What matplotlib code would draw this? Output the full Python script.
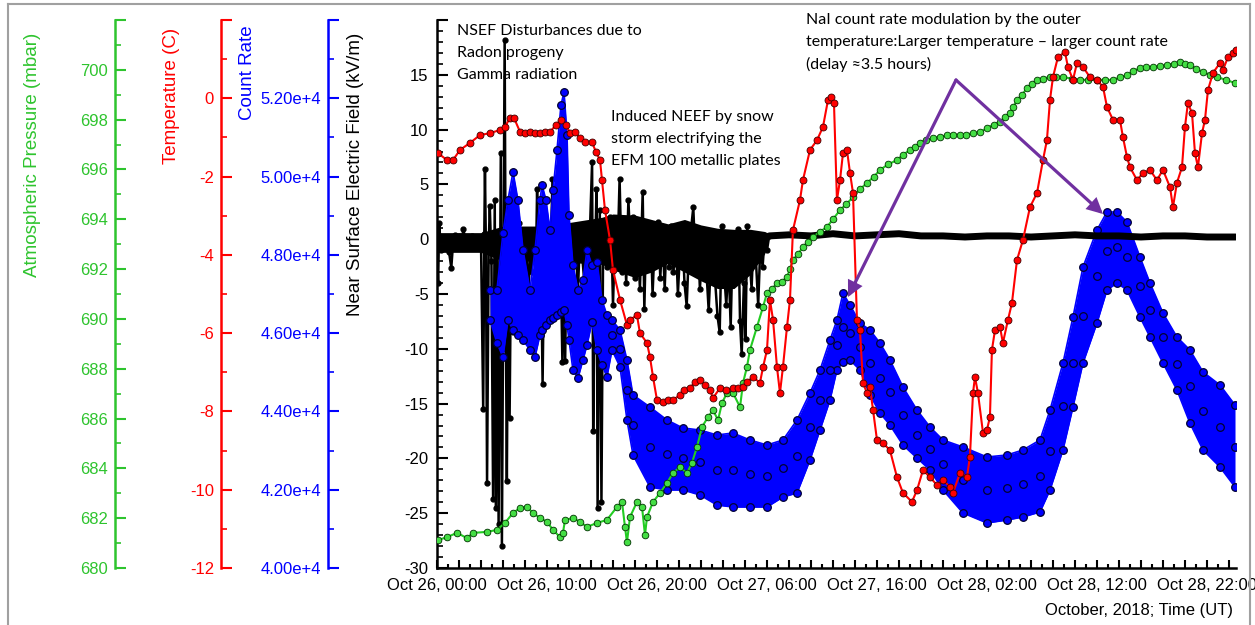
import matplotlib
matplotlib.use("Agg")
import matplotlib.pyplot as plt
from matplotlib.ticker import MultipleLocator, FixedLocator, FixedFormatter, FuncFormatter
from matplotlib.lines import Line2D

# all times are hours since 2018-10-26 00:00 UT
xtick_hours = [0, 10, 20, 30, 40, 50, 60, 70]
xtick_labels = ["Oct 26, 00:00", "Oct 26, 10:00", "Oct 26, 20:00", "Oct 27, 06:00",
                "Oct 27, 16:00", "Oct 28, 02:00", "Oct 28, 12:00", "Oct 28, 22:00"]

# near surface electric field (kV/m), disturbed part
nsef_t = [0.00, 0.10, 0.20, 0.35, 0.50, 0.70, 0.90, 1.10, 1.30, 1.45,
          1.60, 1.80, 2.00, 2.20, 2.40, 2.60, 2.80, 3.00, 3.20, 3.40,
          3.60, 3.80, 4.00, 4.20, 4.30, 4.36, 4.45, 4.55, 4.70, 4.80,
          4.95, 5.10, 5.25, 5.35, 5.50, 5.60, 5.80, 5.90, 6.00, 6.15,
          6.25, 6.35, 6.50, 6.60, 6.75, 6.90, 7.05, 7.20, 7.35, 7.50,
          7.65, 7.80, 7.95, 8.10, 8.30, 8.45, 8.60, 8.80, 9.00, 9.10,
          9.25, 9.45, 9.60, 9.75, 9.95, 10.10, 10.30, 10.50, 10.65, 10.85,
          11.00, 11.20, 11.40, 11.55, 11.65, 11.80, 12.00, 12.20, 12.40, 12.60,
          12.80, 13.00, 13.20, 13.40, 13.60, 13.80, 14.10, 14.20, 14.35, 14.50,
          14.60, 14.80, 14.95, 15.10, 15.30, 15.50, 15.70, 15.90, 16.00, 16.20,
          16.40, 16.60, 16.80, 17.00, 17.20, 17.40, 17.60, 17.80, 18.00, 18.20,
          18.45, 18.70, 18.85, 19.00, 19.20, 19.40, 19.60, 19.80, 20.10, 20.30,
          20.50, 20.70, 20.90, 21.10, 21.30, 21.50, 21.70, 21.90, 22.10, 22.30,
          22.50, 22.70, 22.90, 23.10, 23.30, 23.50, 23.70, 23.90, 24.10, 24.30,
          24.50, 24.70, 24.90, 25.10, 25.30, 25.50, 25.70, 25.90, 26.10, 26.30,
          26.50, 26.70, 26.90, 27.10, 27.40, 27.55, 27.70, 27.90, 28.05, 28.20,
          28.40, 28.60, 28.80, 29.00, 29.20, 29.40, 29.60, 29.80, 30.00, 30.20]
nsef_kvm = [-0.4, -4.0, 1.5, -1.0, 0.2, -0.8, -0.3, -1.2, -2.6, -0.5,
            0.4, -0.6, 0.3, -0.4, 0.9, -0.2, 0.2, -0.6, 0.3, -0.5,
            0.1, -0.8, -0.2, -15.5, 0.5, 6.4, -1.0, -22.2, -0.5, 3.0,
            -2.0, -23.7, 3.6, -24.5, -1.0, -26.0, 7.9, -28.0, -10.0, 18.2,
            -6.0, -22.1, 3.3, -16.3, 0.5, -8.5, -1.0, -3.5, 0.8, 1.5,
            -2.5, -0.5, -4.5, 0.2, -6.0, -1.0, -3.0, 0.5, -2.0, 4.6,
            -4.0, -1.5, -13.2, -0.5, -5.5, 0.8, -2.5, 5.5, -4.0, -1.0,
            -6.0, 0.5, -11.2, -1.0, -11.1, 0.0, -3.0, 1.0, -2.0, 0.6,
            -5.0, 0.2, -1.5, -4.0, 0.5, -2.5, 7.0, -17.5, -3.0, 4.6,
            -24.5, 2.7, -24.0, -1.0, 1.5, -2.5, 2.0, -1.5, -6.0, 1.0,
            -2.0, 5.5, -3.0, 1.5, -4.0, 3.6, -1.0, 2.0, -3.5, 1.0,
            -4.5, 4.3, -6.4, 0.5, -2.5, 1.5, -5.0, 0.0, 1.6, -3.5,
            0.5, -4.5, 0.8, -2.5, 1.2, -3.0, 0.5, -5.0, -1.0, 0.8,
            -4.0, -6.1, -1.0, 1.0, 2.9, -2.0, 0.5, -4.5, -1.5, 0.8,
            -3.0, -6.5, -2.0, 0.2, -4.0, -7.0, -8.5, 1.2, -3.0, -6.0,
            -2.0, -8.0, 0.5, -3.5, 0.9, -7.5, -10.5, -4.0, -9.1, 1.2,
            -1.5, -4.5, 0.5, -2.0, -6.0, -0.5, -2.5, 0.2, -1.0, 0.3]

# dense core of the disturbed field record (upper / lower edge)
nsef_core_t = [0.0, 4.0, 6.0, 10.0, 15.0, 16.0, 18.0, 19.5, 21.0, 22.5,
               24.0, 25.5, 27.0, 28.5, 29.8, 30.2]
nsef_core_hi = [0.6, 0.6, 1.2, 1.2, 2.0, 2.3, 2.2, 1.8, 1.4, 1.8,
                1.3, 1.0, 0.9, 0.9, 0.7, 0.5]
nsef_core_lo = [-1.2, -1.2, -2.0, -2.0, -2.3, -2.8, -3.5, -3.0, -2.2, -3.0,
                -3.8, -4.5, -4.5, -3.2, -1.3, 0.1]

# electric field, quiet part
nsef_calm_t = [30.2, 32, 34, 36, 38, 40, 42, 44, 46, 48, 50,
               52, 54, 56, 58, 60, 62, 64, 66, 68, 70, 72.6]
nsef_calm_kvm = [0.3, 0.4, 0.3, 0.5, 0.3, 0.4, 0.5, 0.3, 0.3, 0.2, 0.3,
                 0.3, 0.2, 0.3, 0.4, 0.3, 0.3, 0.2, 0.3, 0.3, 0.2, 0.2]

# outer temperature (C)
temp_t = [0.09, 0.91, 1.45, 2.09, 3.00, 3.91, 4.82, 5.73, 6.18, 6.64,
          7.00, 7.55, 8.00, 8.45, 8.91, 9.36, 9.82, 10.27, 10.82, 11.27,
          11.73, 12.09, 12.55, 13.00, 13.45, 14.09, 14.45, 14.82, 15.00, 15.27,
          15.73, 16.00, 16.64, 17.27, 17.55, 18.18, 18.45, 19.09, 19.36, 19.64,
          20.00, 20.55, 21.00, 21.45, 22.09, 22.50, 23.00, 23.45, 23.91, 24.36,
          24.82, 25.09, 25.73, 26.27, 26.91, 27.36, 27.82, 28.18, 28.73, 29.36,
          29.64, 30.00, 30.27, 30.55, 30.91, 31.18, 31.45, 31.82, 32.09, 32.36,
          33.00, 33.27, 33.91, 34.55, 35.09, 35.55, 35.82, 36.09, 36.36, 36.64,
          36.91, 37.27, 37.55, 37.82, 38.18, 38.45, 38.73, 39.09, 39.36, 39.64,
          40.00, 40.55, 41.18, 41.82, 42.36, 43.18, 43.64, 44.18, 44.82, 45.45,
          46.00, 46.64, 46.91, 47.55, 48.18, 48.45, 48.73, 48.91, 49.18, 49.64,
          50.00, 50.27, 50.45, 50.73, 51.18, 51.45, 51.91, 52.27, 52.73, 53.27,
          53.91, 54.55, 55.09, 55.45, 55.73, 56.00, 56.45, 57.09, 57.36, 57.82,
          58.18, 58.73, 59.36, 60.00, 60.55, 60.91, 61.45, 62.09, 62.36, 62.73,
          63.00, 63.64, 64.18, 64.82, 65.45, 66.00, 66.64, 66.91, 67.27, 67.73,
          68.00, 68.27, 68.64, 68.91, 69.18, 69.55, 69.82, 70.09, 70.55, 71.18,
          71.45, 71.91, 72.36, 72.64]
temp_c = [-1.40, -1.58, -1.58, -1.32, -1.14, -0.94, -0.89, -0.81, -0.73, -0.50,
          -0.50, -0.86, -0.89, -0.86, -0.89, -0.89, -0.86, -0.86, -0.68, -0.55,
          -0.68, -0.89, -0.86, -1.02, -1.12, -1.12, -1.37, -1.58, -2.09, -2.85,
          -3.62, -4.39, -5.15, -5.79, -5.66, -5.54, -6.00, -6.25, -6.61, -7.12,
          -7.71, -7.76, -7.71, -7.71, -7.58, -7.45, -7.40, -7.25, -7.20, -7.33,
          -7.45, -7.66, -7.40, -7.45, -7.40, -7.40, -7.38, -7.25, -7.12, -7.27,
          -6.87, -6.43, -5.15, -5.66, -6.87, -7.53, -6.87, -5.84, -5.15, -3.37,
          -2.60, -2.09, -1.32, -1.07, -0.73, -0.04, 0.03, -0.12, -2.60, -2.09,
          -1.40, -1.32, -1.91, -2.42, -5.66, -5.92, -7.27, -7.53, -7.38, -7.96,
          -8.73, -8.81, -8.99, -9.68, -10.08, -10.31, -10.01, -9.50, -9.68, -9.88,
          -9.75, -9.93, -10.08, -9.57, -9.68, -9.16, -7.53, -7.12, -7.53, -8.55,
          -8.47, -8.14, -6.43, -5.92, -5.84, -6.25, -5.66, -5.23, -4.13, -3.62,
          -2.78, -2.42, -1.58, -1.07, -0.04, 0.54, 1.05, 1.18, 0.80, 0.47,
          0.90, 0.80, 0.54, 0.47, 0.29, -0.22, -0.55, -0.55, -0.99, -1.50,
          -1.76, -2.09, -1.91, -1.83, -2.09, -1.83, -2.27, -2.78, -2.16, -1.76,
          -0.73, -0.12, -0.38, -1.40, -1.76, -0.89, -0.55, 0.21, 0.65, 0.90,
          0.72, 1.05, 1.16, 1.23]

# atmospheric pressure (mbar)
pres_t = [0.09, 0.91, 1.82, 2.73, 3.27, 4.55, 5.45, 6.18, 6.91, 7.55,
          8.18, 8.73, 9.36, 10.00, 10.55, 11.18, 11.45, 11.64, 12.36, 13.00,
          13.64, 14.55, 15.45, 16.36, 16.82, 17.09, 17.27, 17.55, 18.18, 18.64,
          18.91, 19.09, 19.64, 20.27, 20.91, 21.45, 22.09, 22.73, 23.18, 23.64,
          24.09, 24.64, 25.09, 25.55, 25.91, 26.36, 26.91, 27.55, 27.82, 28.18,
          28.45, 29.09, 29.64, 30.00, 30.45, 30.91, 31.36, 31.82, 32.09, 32.36,
          32.82, 33.27, 33.73, 34.18, 34.82, 35.45, 36.00, 36.64, 37.20, 37.82,
          38.45, 39.09, 39.70, 40.27, 41.00, 41.82, 42.40, 43.00, 43.45, 43.91,
          44.50, 45.09, 45.70, 46.36, 46.90, 47.55, 48.10, 48.73, 49.40, 50.00,
          50.60, 51.18, 51.60, 52.09, 52.40, 52.73, 53.20, 53.64, 54.10, 54.55,
          55.10, 55.73, 56.30, 56.91, 57.70, 58.45, 59.20, 60.00, 60.70, 61.45,
          62.10, 62.73, 63.30, 63.91, 64.50, 65.09, 65.70, 66.36, 67.00, 67.55,
          68.00, 68.45, 69.00, 69.64, 70.30, 70.91, 71.70, 72.55]
pres_mbar = [681.12, 681.24, 681.41, 681.20, 681.41, 681.45, 681.53, 681.81, 682.21, 682.41,
             682.45, 682.21, 682.01, 681.85, 681.53, 681.24, 681.41, 681.93, 682.01, 681.85,
             681.65, 681.81, 681.93, 682.45, 682.65, 681.65, 681.04, 682.05, 682.65, 682.45,
             681.32, 682.05, 682.65, 683.01, 683.41, 683.81, 684.05, 683.81, 684.22, 684.86,
             685.66, 686.06, 686.34, 685.94, 686.62, 687.03, 687.03, 686.46, 687.43, 688.07,
             688.75, 689.68, 690.48, 691.04, 691.20, 691.44, 691.50, 691.68, 692.00, 692.37,
             692.60, 692.89, 693.10, 693.29, 693.50, 693.69, 694.00, 694.37, 694.60, 694.89,
             695.20, 695.46, 695.70, 695.98, 696.20, 696.38, 696.60, 696.78, 696.90, 697.06,
             697.20, 697.26, 697.30, 697.38, 697.40, 697.38, 697.40, 697.46, 697.50, 697.66,
             697.80, 697.91, 698.10, 698.27, 698.50, 698.79, 699.00, 699.27, 699.45, 699.59,
             699.65, 699.71, 699.70, 699.71, 699.65, 699.59, 699.60, 699.59, 699.60, 699.59,
             699.70, 699.79, 699.95, 700.07, 700.10, 700.11, 700.15, 700.19, 700.25, 700.31,
             700.25, 700.19, 700.05, 699.91, 699.80, 699.71, 699.60, 699.47]

# NaI count rate: upper and lower edge of the scatter
count_t = [4.82, 5.45, 6.00, 6.45, 6.91, 7.36, 7.82, 8.45, 8.91, 9.36,
           9.55, 9.91, 10.27, 10.55, 10.91, 11.27, 11.55, 11.82, 12.00, 12.36,
           12.82, 13.27, 13.64, 14.09, 14.55, 15.00, 15.45, 15.91, 16.64, 17.27,
           17.82, 19.36, 20.91, 22.36, 23.91, 25.45, 26.91, 28.45, 30.00, 31.45,
           32.73, 33.91, 34.82, 35.73, 36.36, 36.91, 37.55, 38.45, 39.36, 40.27,
           41.18, 42.36, 43.64, 44.82, 46.00, 47.82, 50.00, 51.82, 53.27, 54.82,
           55.73, 56.91, 57.82, 58.73, 60.00, 60.91, 61.82, 62.73, 63.91, 64.82,
           66.00, 67.27, 68.45, 69.64, 71.18, 72.55]
count_hi = [47102, 47102, 48558, 49401, 50117, 49401, 48124, 47102, 48124, 49401,
            49785, 49401, 48635, 49657, 50679, 51828, 52160, 51062, 49018, 47741,
            47102, 47358, 48124, 47741, 47817, 46847, 46463, 46336, 46080, 45314,
            44420, 44113, 43781, 43577, 43525, 43398, 43449, 43270, 43142, 43270,
            43781, 44471, 45058, 45825, 46336, 47025, 46719, 46259, 46080, 45748,
            45314, 44624, 44036, 43602, 43270, 43091, 42836, 42887, 43015, 43270,
            44036, 45237, 46412, 47690, 48635, 49095, 49095, 48839, 47945, 47281,
            46514, 45901, 45569, 45007, 44675, 44164]
count_lo = [46336, 45748, 45390, 46336, 46080, 45952, 45825, 45569, 45390, 45952,
            46080, 46208, 46336, 46387, 46463, 46540, 46591, 46208, 45825, 45058,
            44854, 45314, 45697, 46285, 45569, 45186, 44879, 45569, 45135, 43781,
            42887, 42069, 41993, 41993, 41865, 41609, 41558, 41558, 41558, 41814,
            41916, 42759, 43525, 44292, 45058, 45263, 45314, 45058, 44420, 43960,
            43653, 43142, 42810, 42504, 41993, 41405, 41150, 41226, 41303, 41431,
            41993, 43015, 44113, 45237, 46259, 47102, 47281, 47102, 46412, 45901,
            45237, 44547, 43704, 43015, 42580, 42069]
# a visible row of points inside the band
count_mid_t = [15.91, 16.64, 17.27, 17.82, 19.36, 20.91, 22.36, 23.91, 25.45, 26.91,
               28.45, 30.00, 31.45, 32.73, 33.91, 34.82, 35.73, 36.36, 36.91, 37.55,
               38.45, 39.36, 40.27, 41.18, 42.36, 43.64, 44.82, 46.00, 47.82, 50.00,
               51.82, 53.27, 54.82, 55.73, 56.91, 57.82, 58.73, 60.00, 60.91, 61.82,
               62.73, 63.91, 64.82, 66.00, 67.27, 68.45, 69.64, 71.18, 72.55]
count_mid = [45950, 45600, 44550, 43650, 43100, 42900, 42800, 42700, 42500, 42500,
             42400, 42350, 42550, 42850, 43600, 44300, 45050, 45700, 46150, 46000,
             45650, 45250, 44850, 44500, 43900, 43400, 43050, 42650, 42250, 42000,
             42050, 42150, 42350, 43000, 44150, 45250, 46450, 47450, 48100, 48200,
             47950, 47200, 46600, 45900, 45200, 44650, 44000, 43600, 43100]

GREEN = "#2ec42e"
RED = "#ff0000"
BLUE = "#0000ff"
PURPLE = "#7030a0"
W, H = 1255, 625

plt.rcParams["font.family"] = ["Liberation Sans", "DejaVu Sans"]
fig = plt.figure(figsize=(W / 100, H / 100), dpi=100)


def fx(px):
    return px / W


def fy(py):
    return 1 - py / H


ax = fig.add_axes([fx(437), fy(568), fx(1236) - fx(437), fy(20) - fy(568)])
ax.patch.set_visible(False)
ax.set_xlim(0, 72.64)
ax.set_ylim(-30, 20)

lab_map = dict(zip(xtick_hours, xtick_labels))
ax.xaxis.set_major_locator(MultipleLocator(2))
ax.xaxis.set_minor_locator(MultipleLocator(1))
ax.xaxis.set_major_formatter(FuncFormatter(lambda v, p: lab_map.get(int(round(v)), "")))
ax.yaxis.set_major_locator(FixedLocator(list(range(-30, 21, 5))))
ax.yaxis.set_major_formatter(FixedFormatter([str(v) for v in range(-30, 16, 5)] + [""]))
ax.yaxis.set_minor_locator(MultipleLocator(1))
ax.tick_params(axis="y", which="major", direction="in", length=8, width=1.5, labelsize=12, pad=6)
ax.tick_params(axis="y", which="minor", direction="in", length=4.5, width=1.2)
ax.tick_params(axis="x", which="major", direction="in", length=6, width=1.5, labelsize=12, pad=7)
ax.tick_params(axis="x", which="minor", direction="in", length=3, width=1.5)
for s in ("top", "right"):
    ax.spines[s].set_visible(False)
for s in ("left", "bottom"):
    ax.spines[s].set_linewidth(1.8)


def side_axis(offset, color, lo, hi, step, labels):
    a = ax.twinx()
    a.yaxis.tick_left()
    for s in ("right", "top", "bottom"):
        a.spines[s].set_visible(False)
    a.spines["left"].set_visible(True)
    a.spines["left"].set_position(("axes", offset))
    a.spines["left"].set_color(color)
    a.spines["left"].set_linewidth(1.8)
    a.set_ylim(lo, hi)
    ticks = [lo + i * step for i in range(int(round((hi - lo) / step)) + 1)]
    a.yaxis.set_major_locator(FixedLocator(ticks))
    a.yaxis.set_major_formatter(FixedFormatter(labels + [""]))
    a.yaxis.set_minor_locator(MultipleLocator(step / 2))
    a.tick_params(axis="y", which="major", direction="in", length=8, width=1.5,
                  colors=color, labelsize=12, pad=5)
    a.tick_params(axis="y", which="minor", direction="in", length=4.5, width=1.2, colors=color)
    return a


ax_c = side_axis(-0.1364, BLUE, 40000, 54000, 2000,
                 ["%.2fe+4" % (v / 1e4) for v in range(40000, 53000, 2000)])
ax_p = side_axis(-0.4030, GREEN, 680, 702, 2, [str(v) for v in range(680, 701, 2)])
ax_t = side_axis(-0.2703, RED, -12, 2, 2, [str(v) for v in range(-12, 1, 2)])

# quiet field record sits on top of the count-rate band
ax_q = ax.twinx()
ax_q.set_ylim(-30, 20)
ax_q.axis("off")

# drawing order: disturbed field, count rate, quiet field, pressure, temperature
ax.set_zorder(1)
ax_c.set_zorder(2)
ax_q.set_zorder(3)
ax_p.set_zorder(4)
ax_t.set_zorder(5)

ax.fill_between(nsef_core_t, nsef_core_lo, nsef_core_hi, color="k", lw=0)
ax.plot(nsef_t, nsef_kvm, "-o", color="k", lw=1.8, ms=3.5)
ax_q.plot(nsef_calm_t, nsef_calm_kvm, "-", color="k", lw=5, solid_capstyle="round")

ax_c.fill_between(count_t, count_lo, count_hi, color=BLUE, lw=0)
for edge in (count_hi, count_lo):
    ax_c.plot(count_t, edge, "-o", color=BLUE, lw=1.2, ms=5.5, mfc=BLUE, mec="#000033", mew=0.9)
ax_c.plot(count_mid_t, count_mid, "o", ms=5.5, mfc=BLUE, mec="#000033", mew=0.9)

ax_p.plot(pres_t, pres_mbar, "-o", color="#22cc22", lw=1.5, ms=4.8,
          mfc="#44dd44", mec="#003300", mew=0.6)
ax_t.plot(temp_t, temp_c, "-o", color=RED, lw=1.5, ms=5, mfc=RED, mec="#400000", mew=0.6)

# axis titles, top aligned as in the original
fig.text(fx(33), fy(33), "Atmospheric Pressure (mbar)", rotation=90, ha="center", va="top",
         color=GREEN, fontsize=13.5)
fig.text(fx(171), fy(28), "Temperature (C)", rotation=90, ha="center", va="top",
         color=RED, fontsize=13.5)
fig.text(fx(247), fy(25), "Count Rate", rotation=90, ha="center", va="top",
         color=BLUE, fontsize=13.5)
fig.text(fx(355), fy(33), "Near Surface Electric Field (kV/m)", rotation=90, ha="center",
         va="top", color="k", fontsize=13.5)
fig.text(fx(1233), fy(610), "October, 2018; Time (UT)", ha="right", va="center", fontsize=12)

note_font = dict(family=["Lato", "DejaVu Sans"], fontsize=11.5, ha="left", va="center")
notes = [
    (457, [31, 53, 75], ["NSEF Disturbances due to", "Radon progeny", "Gamma radiation"]),
    (611, [117, 139, 161], ["Induced NEEF by snow", "storm electrifying the",
                            "EFM 100 metallic plates"]),
    (806, [20, 42, 64], ["NaI count rate modulation by the outer",
                         "temperature:Larger temperature \u2013 larger count rate",
                         "(delay \u22483.5 hours)"]),
]
for x0, ys, lines in notes:
    for y0, line in zip(ys, lines):
        fig.text(fx(x0), fy(y0), line, **note_font)

apex = (956, H - 80)
for tip in ((848, H - 297), (1103, H - 214)):
    ax_t.annotate("", xy=tip, xycoords="figure pixels", xytext=apex, textcoords="figure pixels",
                  annotation_clip=False,
                  arrowprops=dict(arrowstyle="-|>", color=PURPLE, lw=2.3, mutation_scale=20,
                                  shrinkA=0, shrinkB=0, joinstyle="miter"))

# grey frame of the original screenshot
frame = dict(color="#a0a0a0", lw=1.5, transform=fig.transFigure)
fig.add_artist(Line2D([fx(8), fx(8)], [fy(4), 0], **frame))
fig.add_artist(Line2D([fx(8), fx(1250)], [fy(4), fy(4)], **frame))
fig.add_artist(Line2D([fx(1250), fx(1250)], [fy(4), 0], **frame))

fig.savefig("out.png", dpi=100, facecolor="white")
